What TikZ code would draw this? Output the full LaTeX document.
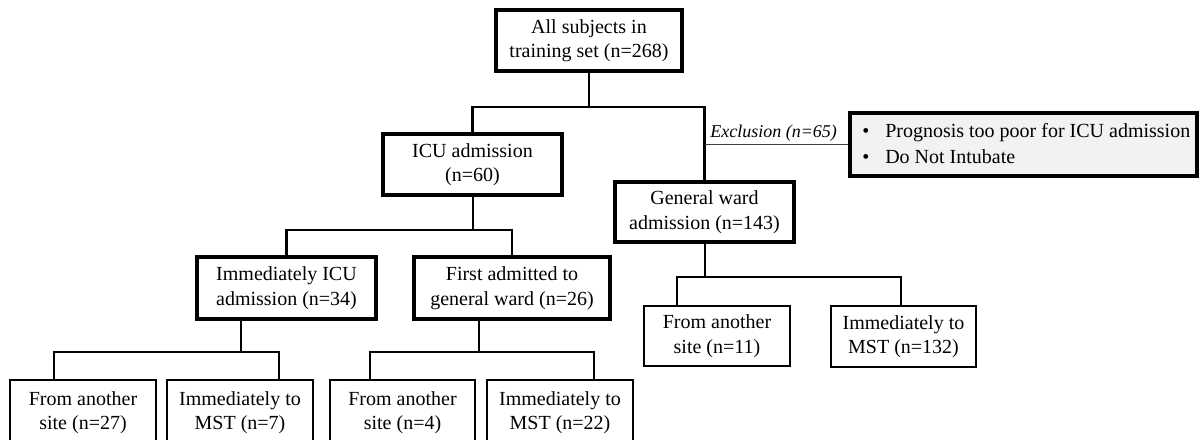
\documentclass[tikz,border=0pt]{standalone}
\usepackage{fontspec}
\setmainfont{Liberation Serif}
\newcommand\fs{\fontsize{15}{18.4}\selectfont}
\newcommand\bul{\makebox[17.25pt][l]{\textbullet}}
\definecolor{exfill}{HTML}{F2F2F2}
\tikzset{
  thickbox/.style={draw, line width=2.5pt, align=center, inner sep=0pt, font=\fs},
  thinbox/.style={draw, line width=1.2pt, align=center, inner sep=0pt, font=\fs},
  conn/.style={line width=2pt},
  exline/.style={line width=1pt, black!75},
}
\begin{document}
\begin{tikzpicture}[x=0.75pt, y=-0.75pt]
\useasboundingbox (0,0) rectangle (1201,439);
\clip (0,0) rectangle (1201,439);
% level 0
\node[thickbox, minimum width=186*0.75pt, minimum height=61*0.75pt] (top) at (589,40.5) {All subjects in\\training set (n=268)};
% level 1
\node[thickbox, minimum width=179*0.75pt, minimum height=61*0.75pt] (icu) at (472.5,164.5) {ICU admission\\(n=60)};
\node[thickbox, minimum width=179*0.75pt, minimum height=60*0.75pt] (gw) at (704.5,212) {General ward\\admission (n=143)};
\node[thickbox, fill=exfill, minimum width=347*0.75pt, minimum height=63*0.75pt] (excl) at (1023.5,144.5) {};
\node[anchor=west, align=left, inner sep=0pt, font=\fontsize{15}{19.5}\selectfont] (extext) at (862,143.5) {\bul Prognosis too poor for ICU admission\\\bul Do Not Intubate};
\node[anchor=base west, inner sep=0pt, font=\itshape\fontsize{13.5}{16}\selectfont] (exlab) at (710,137) {Exclusion (n=65)};
% level 2
\node[thickbox, minimum width=179*0.75pt, minimum height=62*0.75pt] (immicu) at (286.5,288) {Immediately ICU\\admission (n=34)};
\node[thickbox, minimum width=196*0.75pt, minimum height=62*0.75pt] (first) at (512,288) {First admitted to\\general ward (n=26)};
% level 3
\node[thinbox, minimum width=146*0.75pt, minimum height=65*0.75pt] (b1) at (83,412.5) {From another\\site (n=27)};
\node[thinbox, minimum width=146*0.75pt, minimum height=65*0.75pt] (b2) at (240,412.5) {Immediately to\\MST (n=7)};
\node[thinbox, minimum width=145*0.75pt, minimum height=65*0.75pt] (b3) at (402.5,412.5) {From another\\site (n=4)};
\node[thinbox, minimum width=146*0.75pt, minimum height=65*0.75pt] (b4) at (560,412.5) {Immediately to\\MST (n=22)};
\node[thinbox, minimum width=146*0.75pt, minimum height=60*0.75pt] (r1) at (717,336) {From another\\site (n=11)};
\node[thinbox, minimum width=145*0.75pt, minimum height=61*0.75pt] (r2) at (903.5,336.5) {Immediately to\\MST (n=132)};
% junctions
\coordinate (j0) at (589,107);
\coordinate (j1) at (473,230);
\coordinate (j2) at (241,352);
\coordinate (j2l) at (54,352);
\coordinate (j2r) at (279,352);
\coordinate (j3) at (479,352);
\coordinate (j3l) at (370,352);
\coordinate (j3r) at (594,352);
\coordinate (j4) at (705,277);
\coordinate (j4l) at (677,277);
\coordinate (j4r) at (901,277);
% connectors
\draw[conn] (top.south) -- (j0);
\draw[conn] (icu.north) |- (j0) -| (gw.north);
\draw[exline] (gw.north |- excl.west) -- (excl.west);
\draw[conn] (icu.south -| j1) -- (j1);
\draw[conn] (immicu.north) |- (j1) -| (first.north);
\draw[conn] (immicu.south -| j2) -- (j2);
\draw[conn] (b1.north -| j2l) -- (j2l) -- (j2r) -- (b2.north -| j2r);
\draw[conn] (first.south -| j3) -- (j3);
\draw[conn] (b3.north -| j3l) -- (j3l) -- (j3r) -- (b4.north -| j3r);
\draw[conn] (gw.south -| j4) -- (j4);
\draw[conn] (r1.north -| j4l) -- (j4l) -- (j4r) -- (r2.north -| j4r);
\end{tikzpicture}
\end{document}
